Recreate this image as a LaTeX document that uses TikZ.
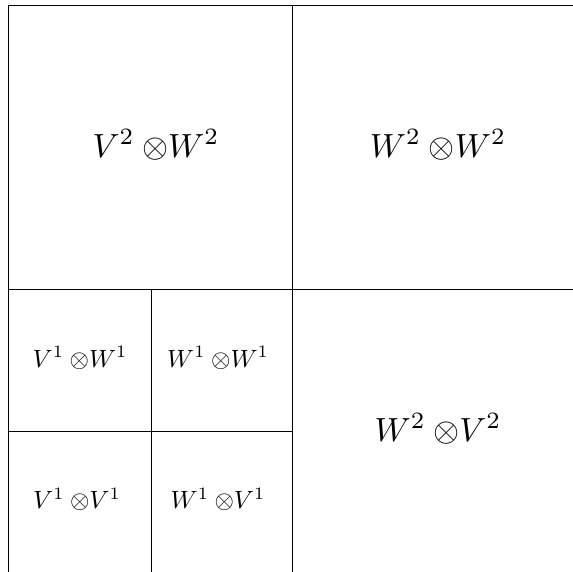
\documentclass[tikz,border=0pt]{standalone}
\newcommand{\tprod}[2]{#1\otimes\mkern-4mu #2}
\begin{document}
\begin{tikzpicture}[x=1pt,y=-1pt,
  cell/.style={draw=black,line width=0.8pt},
  bigtxt/.style={scale=3.35,inner sep=0pt,anchor=base},
  smalltxt/.style={scale=2.5,inner sep=0pt,anchor=base}]
\useasboundingbox (0,0) rectangle (573,571);
\begin{scope}
\clip (0,0) rectangle (573,571);
\draw[cell] (8.3,5) rectangle (292.7,289.3);
\draw[cell] (292.7,5) rectangle (577.1,289.3);
\draw[cell] (292.7,289.3) rectangle (577.1,573.7);
\draw[cell] (8.3,289.3) rectangle (151,431);
\draw[cell] (151,289.3) rectangle (292.7,431);
\draw[cell] (8.3,431) rectangle (151,573.7);
\draw[cell] (151,431) rectangle (292.7,573.7);
\end{scope}
\node[bigtxt] (vw2) at (156,157) {$\tprod{V^2}{W^2}$};
\node[bigtxt] (ww2) at (438,157) {$\tprod{W^2}{W^2}$};
\node[bigtxt] (wv2) at (438,441) {$\tprod{W^2}{V^2}$};
\node[smalltxt] (vw1) at (80,367) {$\tprod{V^1}{W^1}$};
\node[smalltxt] (ww1) at (218,367) {$\tprod{W^1}{W^1}$};
\node[smalltxt] (vv1) at (77,508.7) {$\tprod{V^1}{V^1}$};
\node[smalltxt] (wv1) at (218,508.7) {$\tprod{W^1}{V^1}$};
\end{tikzpicture}
\end{document}
